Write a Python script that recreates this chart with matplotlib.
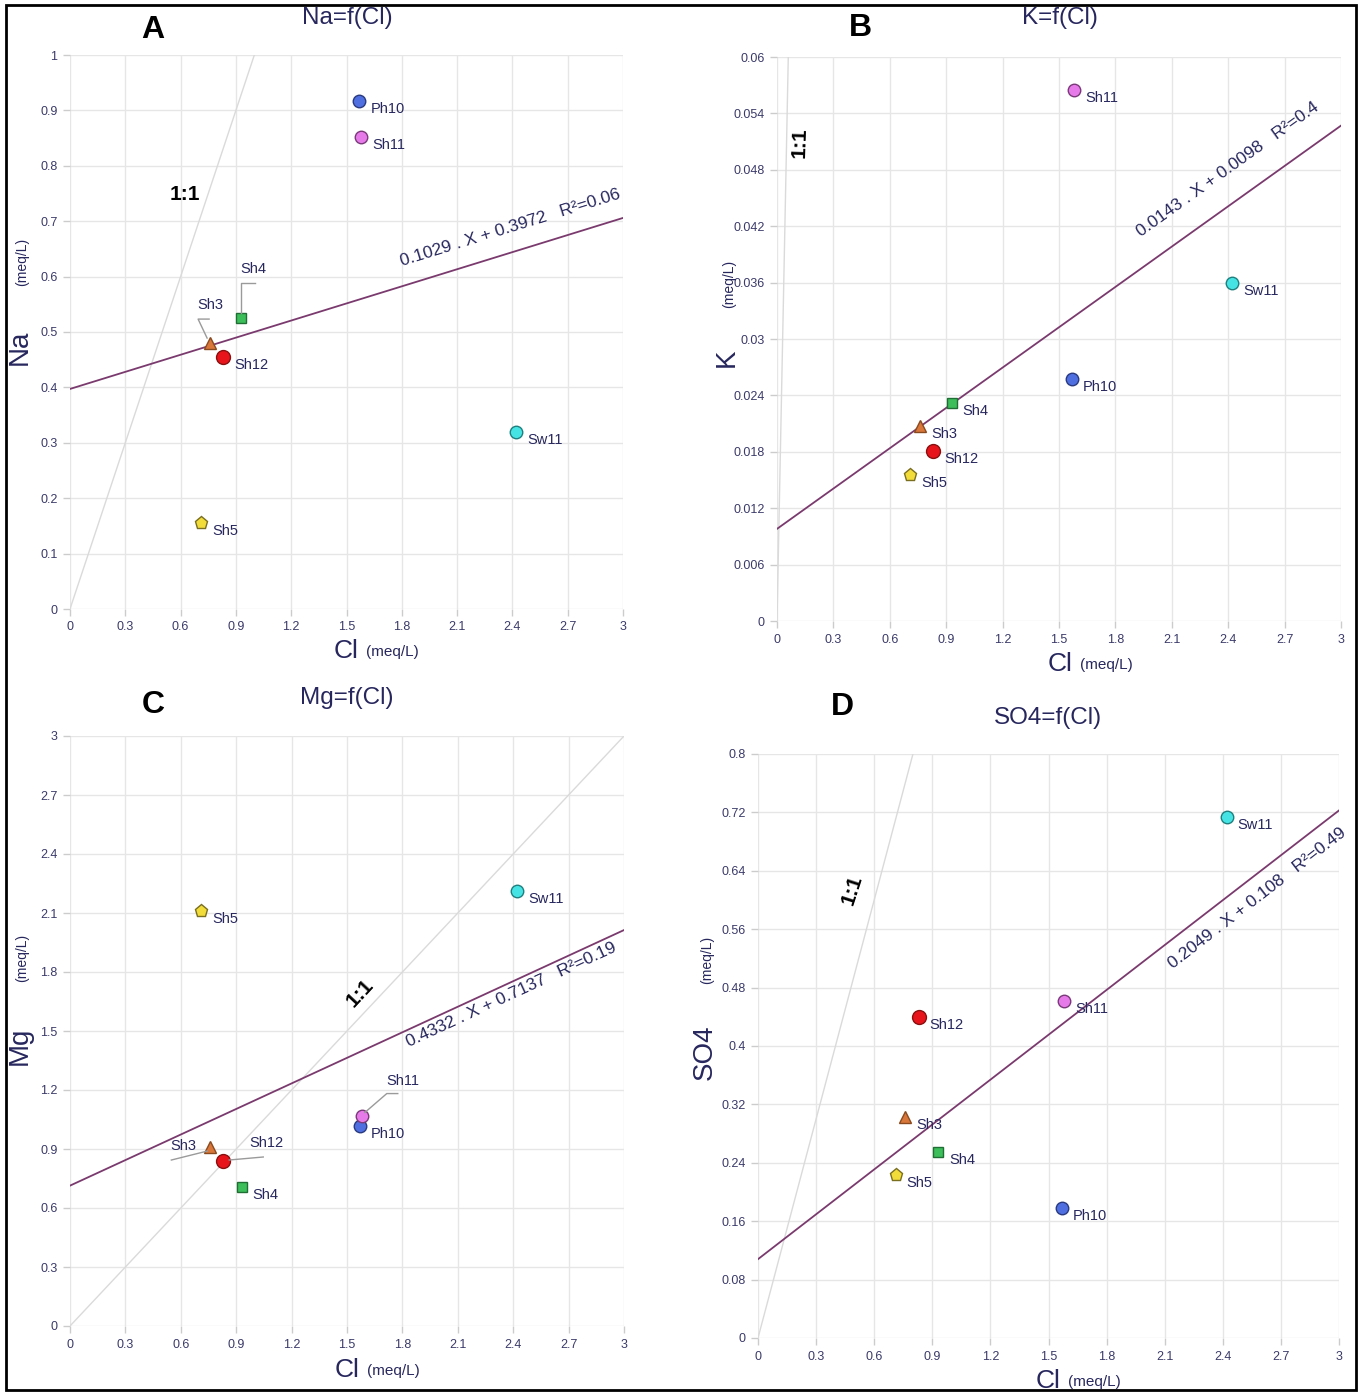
import numpy as np
import matplotlib
matplotlib.use("Agg")
import matplotlib.pyplot as plt
from matplotlib.transforms import IdentityTransform
from matplotlib.lines import Line2D
from matplotlib.patches import Rectangle

plt.rcParams['font.family'] = ['Liberation Sans', 'DejaVu Sans']

W, H = 1362, 1394
NAVY = '#27275e'
TICK = '#3a3a6a'

# samples and values
samples = ['Sh3', 'Sh4', 'Sh5', 'Sh12', 'Ph10', 'Sh11', 'Sw11']
cl = [0.76, 0.93, 0.71, 0.83, 1.57, 1.58, 2.42]
na = [0.48, 0.525, 0.155, 0.455, 0.917, 0.852, 0.319]
k = [0.0207, 0.0232, 0.0155, 0.0181, 0.0257, 0.0565, 0.036]
mg = [0.91, 0.707, 2.11, 0.839, 1.017, 1.07, 2.21]
so4 = [0.303, 0.255, 0.223, 0.44, 0.178, 0.462, 0.714]

# regression equations printed on the chart (slope, intercept, R2)
fit_na = (0.1029, 0.3972, '0.06')
fit_k = (0.0143, 0.0098, '0.4')
fit_mg = (0.4332, 0.7137, '0.19')
fit_so4 = (0.2049, 0.108, '0.49')

x_ticks = np.arange(0, 3.01, 0.3)
na_ticks = np.arange(0, 1.01, 0.1)
k_ticks = np.arange(0, 0.0601, 0.006)
mg_ticks = np.arange(0, 3.01, 0.3)
so4_ticks = np.arange(0, 0.801, 0.08)

styles = {
    'Sh3': ('^', '#d9773a', '#8a4a1f', 8.5),
    'Sh4': ('s', '#3cbf5a', '#1f6e33', 7.5),
    'Sh5': ('p', '#f2dc3a', '#7a6e1f', 9.5),
    'Sh12': ('o', '#e8141c', '#8a1010', 10),
    'Ph10': ('o', '#4f6fe0', '#2a3a80', 9),
    'Sh11': ('o', '#e67ae8', '#7a3a7a', 9),
    'Sw11': ('o', '#45e3e3', '#1f7f7f', 9),
}


def fpos(x, y):
    return x / W, 1 - y / H


fig = plt.figure(figsize=(W / 100, H / 100), dpi=100)
fig.patches.append(Rectangle((6 / W, 1 - 1390 / H), 1350 / W, 1385 / H,
                             transform=fig.transFigure, fill=False,
                             edgecolor='black', lw=2))

panels = [
    dict(box=(70, 55, 623, 609), y=na, ticks=na_ticks, fit=fit_na, name='Na',
         letter=('A', 153, 30), title=('Na=f(Cl)', 347, 18),
         ylab=(20, 347, 262), xlab=(346, 651), eq=(2.39, 0.688),
         one=(185, 195, 0),
         labels={'Sh3': ('lead', [(-3, -5), (-12, -24), (-1, -24)], (0, -38)),
                 'Sh4': ('lead', [(0, -5), (0, -35), (14, -35)], (12, -49))}),
    dict(box=(777, 57, 1341, 621), y=k, ticks=k_ticks, fit=fit_k, name='K',
         letter=('B', 860, 28), title=('K=f(Cl)', 1060, 18),
         ylab=(727, 358, 284), xlab=(1060, 664), eq=(2.40, 0.048),
         one=(800, 143, 88), labels={}),
    dict(box=(70, 736, 624, 1326), y=mg, ticks=mg_ticks, fit=fit_mg, name='Mg',
         letter=('C', 153, 705), title=('Mg=f(Cl)', 347, 698),
         ylab=(20, 1046, 958), xlab=(347, 1370), eq=(2.39, 1.683),
         one=(360, 993, 47),
         labels={'Sh11': ('lead', [(3, -3), (25, -22), (36, -22)], (41, -35)),
                 'Sh3': ('lead', [(-3, 4), (-39, 13)], (-27, -1)),
                 'Sh12': ('lead', [(6, -1), (40, -4)], (43, -18))}),
    dict(box=(758, 754, 1339, 1338), y=so4, ticks=so4_ticks, fit=fit_so4, name='SO4',
         letter=('D', 842, 707), title=('SO4=f(Cl)', 1048, 718),
         ylab=(705, 1052, 960), xlab=(1048, 1381), eq=(2.58, 0.603),
         one=(852, 890, 72), labels={}),
]

for p in panels:
    x0, y0, x1, y1 = p['box']
    ax = fig.add_axes([x0 / W, 1 - y1 / H, (x1 - x0) / W, (y1 - y0) / H])
    ymax = p['ticks'][-1]
    ax.set_xlim(0, 3)
    ax.set_ylim(0, ymax)
    ax.set_xticks(x_ticks)
    ax.set_yticks(p['ticks'])
    ax.set_xticklabels([f'{v:.3g}' for v in np.round(x_ticks, 3)])
    ax.set_yticklabels([f'{v:.3g}' for v in np.round(p['ticks'], 4)])
    for s in ax.spines.values():
        s.set_visible(False)
    ax.grid(True, color='#e6e6e6', lw=1)
    ax.set_axisbelow(True)
    ax.tick_params(colors='#cccccc', labelcolor=TICK, labelsize=9,
                   length=5, width=1, pad=4)

    # 1:1 line and regression line
    xs = np.array([0, 3])
    ax.plot(xs, xs, color='#dadada', lw=1, zorder=1)
    a, b, r2 = p['fit']
    ax.plot(xs, a * xs + b, color='#7a3a6e', lw=1.3, zorder=2)

    # angle of regression line on screen
    pa = ax.transData.transform((0, b))
    pb = ax.transData.transform((3, a * 3 + b))
    ang = np.degrees(np.arctan2(pb[1] - pa[1], pb[0] - pa[0]))
    ex, ey = p['eq']
    ax.text(ex, ey, f'{a:g} . X + {b:g}   R²={r2}', rotation=ang,
            rotation_mode='anchor', ha='center', va='center',
            fontsize=12.5, color=NAVY, clip_on=False)

    # 1:1 label
    tx, ty, rot = p['one']
    fig.text(*fpos(tx, ty), '1:1', fontsize=15, fontweight='bold',
             rotation=rot, ha='center', va='center', color='black')

    for i, s in enumerate(samples):
        m, fc, ec, ms = styles[s]
        xv, yv = cl[i], p['y'][i]
        ax.plot(xv, yv, marker=m, ms=ms, mfc=fc, mec=ec, mew=1,
                ls='none', zorder=5, clip_on=False)
        dx0, dy0 = ax.transData.transform((xv, yv))
        if s in p['labels']:
            _, pts, (lx, ly) = p['labels'][s]
            lxs = [dx0 + q[0] for q in pts]
            lys = [dy0 - q[1] for q in pts]
            fig.add_artist(Line2D(lxs, lys, transform=IdentityTransform(),
                                  color='#9a9a9a', lw=1))
            fig.text(dx0 + lx, dy0 - ly, s, transform=IdentityTransform(),
                     fontsize=10.5, color=NAVY, ha='center', va='center')
        else:
            fig.text(dx0 + 11, dy0 - 8, s, transform=IdentityTransform(),
                     fontsize=10.5, color=NAVY, ha='left', va='center')

    # titles and axis labels
    lt, lx, ly = p['letter']
    fig.text(*fpos(lx, ly), lt, fontsize=23, fontweight='bold',
             ha='center', va='center', color='black')
    tt, tx, ty = p['title']
    fig.text(*fpos(tx, ty), tt, fontsize=17.5, ha='center', va='center', color=NAVY)
    yx, yy, uy = p['ylab']
    fig.text(*fpos(yx, yy), p['name'], fontsize=20, rotation=90,
             ha='center', va='center', color=NAVY)
    fig.text(*fpos(yx + 2, uy), '(meq/L)', fontsize=10, rotation=90,
             ha='center', va='center', color=NAVY)
    cx, cy = p['xlab']
    fig.text(*fpos(cx, cy), 'Cl', fontsize=19, ha='center', va='center', color=NAVY)
    fig.text(*fpos(cx + 20, cy + 1), '(meq/L)', fontsize=11, ha='left',
             va='center', color=NAVY)

fig.savefig('out.png', dpi=100)
